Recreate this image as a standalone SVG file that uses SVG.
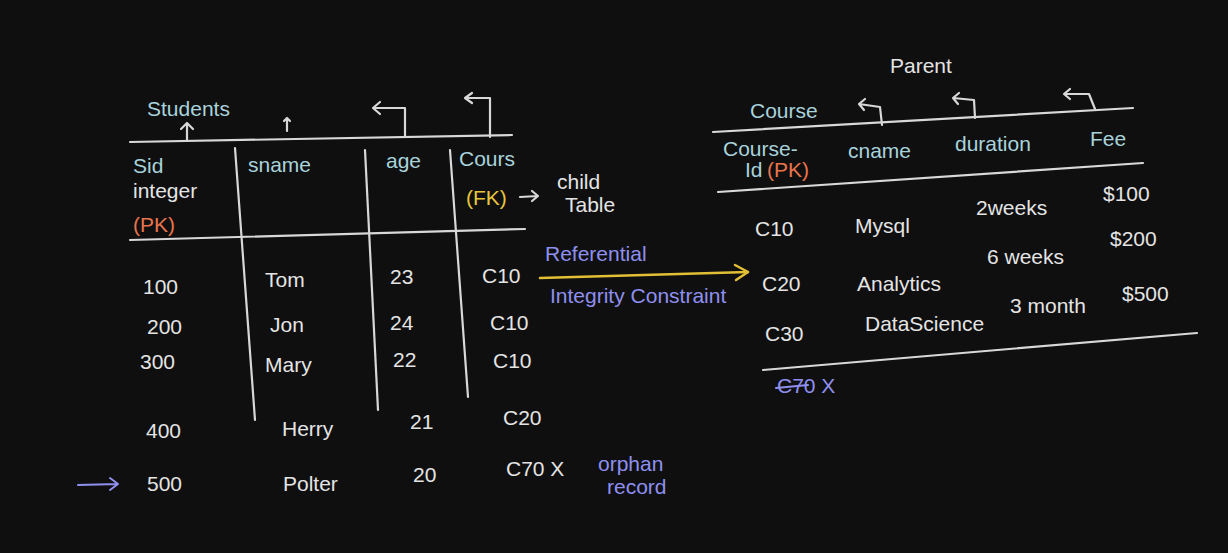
<svg xmlns="http://www.w3.org/2000/svg" width="1228" height="553" viewBox="0 0 1228 553">
<defs>
<style>
text{font-family:"Liberation Sans","DejaVu Sans",sans-serif;font-size:21px;}
.w{fill:#e4e4e4;}
.h{fill:#a9d3dc;}
.pk{fill:#e9744c;}
.fk{fill:#e8c53c;}
.p{fill:#8f8ff0;}
.ln{stroke:#d8d8d8;stroke-width:2.2;fill:none;stroke-linecap:round;stroke-linejoin:round;}
.ya{stroke:#e3bf35;stroke-width:2.5;fill:none;stroke-linecap:round;stroke-linejoin:round;}
.pa{stroke:#8f8ff0;stroke-width:2;fill:none;stroke-linecap:round;stroke-linejoin:round;}
</style>
</defs>
<rect width="1228" height="553" fill="#0f0f0f"/>

<g id="students-table">
<text class="h" x="147" y="116" font-size="24">Students</text>
<path class="ln" d="M130 142 L512 135"/>
<path class="ln" d="M130 240 L525 229"/>
<path class="ln" d="M235 148 L255 420"/>
<path class="ln" d="M365 150 L378 410"/>
<path class="ln" d="M450 150 L468 397"/>
<text class="h" x="133" y="173">Sid</text>
<text class="w" x="133" y="198" font-size="19">integer</text>
<text class="pk" x="133" y="232">(PK)</text>
<text class="h" x="248" y="172">sname</text>
<text class="h" x="386" y="168">age</text>
<text class="h" x="459" y="166">Cours</text>
<text class="fk" x="466" y="205">(FK)</text>
<text class="w" x="557" y="189" font-size="16">child</text>
<text class="w" x="565" y="212" font-size="16">Table</text>
<text class="w" x="143" y="294">100</text>
<text class="w" x="265" y="287">Tom</text>
<text class="w" x="390" y="284">23</text>
<text class="w" x="482" y="283">C10</text>
<text class="w" x="147" y="334">200</text>
<text class="w" x="270" y="332">Jon</text>
<text class="w" x="390" y="330">24</text>
<text class="w" x="490" y="330">C10</text>
<text class="w" x="140" y="369">300</text>
<text class="w" x="265" y="372">Mary</text>
<text class="w" x="393" y="367">22</text>
<text class="w" x="493" y="368">C10</text>
<text class="w" x="146" y="438">400</text>
<text class="w" x="282" y="436">Herry</text>
<text class="w" x="410" y="429">21</text>
<text class="w" x="503" y="425">C20</text>
<text class="w" x="147" y="491">500</text>
<text class="w" x="283" y="491">Polter</text>
<text class="w" x="413" y="482">20</text>
<text class="w" x="506" y="476">C70 X</text>
<text class="p" x="598" y="471" font-size="17">orphan</text>
<text class="p" x="607" y="494" font-size="17">record</text>
</g>

<g id="course-table">
<text class="w" x="890" y="73" font-size="24">Parent</text>
<text class="h" x="750" y="118" font-size="23">Course</text>
<path class="ln" d="M713 132 L1133 108"/>
<path class="ln" d="M718 192 L1143 163"/>
<path class="ln" d="M763 370 L1197 333"/>
<text class="h" x="723" y="156">Course-</text>
<text class="h" x="745" y="177">Id</text>
<text class="pk" x="767" y="177" font-size="17">(PK)</text>
<text class="h" x="848" y="158">cname</text>
<text class="h" x="955" y="151">duration</text>
<text class="h" x="1090" y="146">Fee</text>
<text class="w" x="755" y="236">C10</text>
<text class="w" x="855" y="233">Mysql</text>
<text class="w" x="976" y="215">2weeks</text>
<text class="w" x="1103" y="201">$100</text>
<text class="w" x="762" y="291">C20</text>
<text class="w" x="857" y="291">Analytics</text>
<text class="w" x="987" y="264">6 weeks</text>
<text class="w" x="1110" y="246">$200</text>
<text class="w" x="765" y="341">C30</text>
<text class="w" x="865" y="331">DataScience</text>
<text class="w" x="1010" y="313">3 month</text>
<text class="w" x="1122" y="301">$500</text>
<text class="p" x="777" y="393" font-size="17">C70 X</text>
<path class="pa" d="M776 388 L808 385"/>
</g>

<g id="constraint-label">
<text class="p" x="545" y="261">Referential</text>
<text class="p" x="550" y="303" font-size="19">Integrity Constraint</text>
</g>

<g id="connectors">
<path class="ya" d="M540 278 L748 272"/>
<path class="ya" d="M735 265 L748 272 L736 280"/>
<path class="ln" d="M520 197 L538 196 M532 191 L538 196 L532 201"/>
<path class="ln" d="M187 140 L187 123 M181 129 L187 123 L193 129"/>
<path class="ln" d="M287 131 L287 118 M284 121 L287 118 L290 121"/>
<path class="ln" d="M405 137 L405 108 L373 108 M380 102 L373 108 L380 114"/>
<path class="ln" d="M490 137 L490 98 L465 98 M472 93 L465 98 L472 103"/>
<path class="ln" d="M882 125 L880 107 L859 104 M865 99 L859 104 L864 110"/>
<path class="ln" d="M975 118 L974 100 L953 98 M959 93 L953 98 L958 104"/>
<path class="ln" d="M1095 109 L1089 94 L1064 94 M1070 89 L1064 94 L1070 99"/>
<path class="pa" d="M78 485 L118 484 M110 478 L118 484 L110 490"/>
</g>
</svg>
